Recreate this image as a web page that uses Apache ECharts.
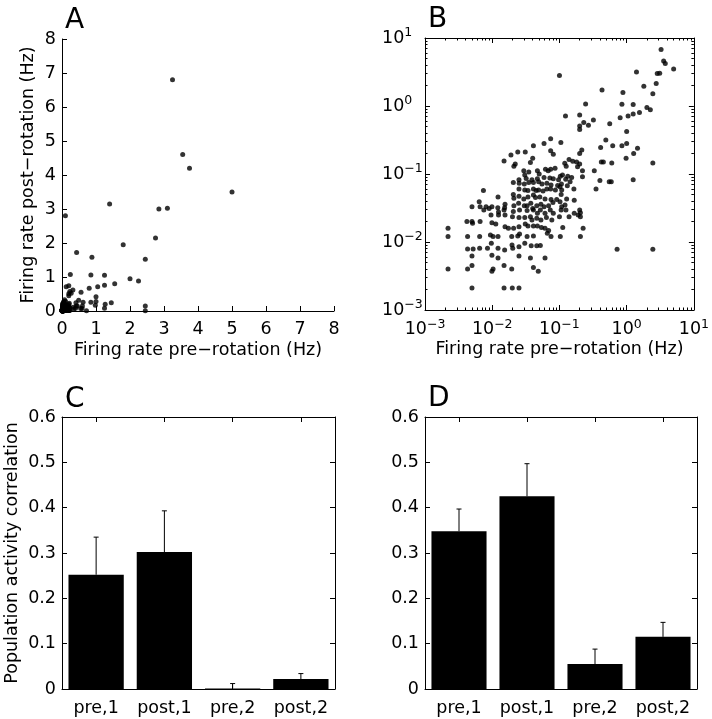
<!DOCTYPE html>
<html>
<head>
<meta charset="utf-8">
<script src="https://cdn.jsdelivr.net/npm/echarts@6/dist/echarts.min.js"></script>
<style>html,body{margin:0;padding:0;background:#fff}#c{width:712px;height:719px}</style>
</head>
<body>
<div id="c"></div>
<script>
// Firing rates (Hz), one entry per cell: pre-rotation and post-rotation
const preRate = [
3.25,3.55,3.75,5.0,1.4,0.1,2.85,3.1,2.75,1.8,2.45,0.43,0.88,1.25,0.85,2.0,2.25,1.55,1.25,1.05,0.8,1.0,1.0,0.62,0.85,1.45,1.27,0.98,0.42,0.45,0.6,2.45,1.25,0.72,2.45,
0.245,0.123,0.2,0.23,0.2,0.2,0.27,0.32,0.56,0.074,0.041,0.059,0.105,0.031,0.024,0.019,0.015,0.022,0.021,0.037,0.04,0.074,0.081,0.139,0.158,0.18,0.2,0.12,0.126,0.186,0.2,0.215,0.41,0.49,0.22,0.33,0.22,0.59,0.55,0.4,0.35,
0.0295,0.035,0.0305,0.047,0.05,0.062,0.068,0.074,0.086,0.111,0.133,0.152,
0.032,0.025,0.039,0.047,0.059,0.072,0.081,0.097,0.103,0.124,0.144,
0.0206,0.0252,0.03,0.035,0.041,0.049,0.055,0.065,0.075,0.094,0.102,0.107,0.131,
0.0074,0.025,0.0305,0.034,0.041,0.045,0.049,0.057,0.065,0.074,0.087,0.108,0.164,
0.0122,0.0206,0.021,0.025,0.0295,0.034,0.041,0.044,0.051,0.061,0.075,0.091,0.106,0.128,0.166,
0.0064,0.0066,0.005,0.0081,0.0099,0.0121,0.0155,0.0153,0.021,0.0247,0.03,0.033,0.0375,0.04,0.046,0.053,0.059,0.069,0.08,0.102,0.108,0.121,0.2,0.205,
0.0075,0.009,0.0124,0.015,0.0206,0.0255,0.033,0.041,0.047,0.052,0.061,0.073,0.081,0.106,0.125,0.166,
0.0042,0.005,0.0066,0.0096,0.0124,0.0155,0.02,0.025,0.0305,0.037,0.039,0.046,0.053,0.064,0.077,0.1,0.139,0.19,0.205,
0.0022,0.0051,0.0099,0.0113,0.0155,0.0174,0.0208,0.025,0.031,0.034,0.041,0.047,0.054,0.061,0.069,0.112,0.225,
0.0022,0.0043,0.0065,0.0094,0.0103,0.0122,0.0195,0.024,0.0255,0.033,0.041,0.066,0.075,0.103,0.205,
0.0043,0.0052,0.0065,0.0085,0.0097,0.0122,0.0153,0.0197,0.0202,0.025,0.0305,0.038,0.046,0.052,
0.005,0.0099,0.0122,0.025,0.037,0.061,
0.0022,0.0043,0.005,0.0099,0.0103,0.015,0.0195,0.041,0.0484,
0.005,0.015,0.0199,0.025
];
const postRate = [
6.8,4.6,4.2,3.5,3.15,2.8,3.0,3.02,2.15,1.95,1.52,1.72,1.58,1.05,1.06,0.95,0.88,0.8,0.76,0.71,0.67,0.42,0.28,0.26,0.26,0.24,0.2,0.17,0.15,0.15,0.145,0.145,0.082,0.0078,0.0078,
1.07,0.71,0.74,0.57,0.51,0.45,0.52,0.62,0.55,0.33,0.26,0.28,0.29,0.21,0.21,0.19,0.155,0.14,0.13,0.147,0.17,0.22,0.195,0.164,0.154,0.15,0.14,0.144,0.13,0.128,0.2,0.225,0.245,0.316,0.112,0.112,0.091,0.077,0.077,0.08,0.06,
0.112,0.107,0.097,0.112,0.1,0.117,0.112,0.117,0.121,0.097,0.093,0.089,
0.086,0.082,0.082,0.085,0.089,0.087,0.085,0.082,0.093,0.084,0.077,
0.075,0.073,0.071,0.075,0.075,0.077,0.071,0.073,0.069,0.068,0.065,0.071,0.067,
0.057,0.06,0.058,0.057,0.06,0.057,0.058,0.056,0.06,0.06,0.058,0.058,0.06,
0.046,0.05,0.044,0.047,0.043,0.046,0.049,0.045,0.046,0.043,0.042,0.042,0.05,0.043,0.041,
0.039,0.033,0.033,0.033,0.033,0.032,0.036,0.032,0.034,0.037,0.034,0.034,0.037,0.031,0.034,0.036,0.033,0.034,0.038,0.039,0.033,0.035,0.0295,0.027,
0.0295,0.031,0.0276,0.0295,0.028,0.0295,0.029,0.0295,0.0264,0.0295,0.0264,0.0295,0.0264,0.0295,0.0295,0.0264,
0.02,0.02,0.02,0.025,0.025,0.025,0.0236,0.023,0.023,0.0236,0.021,0.0223,0.021,0.023,0.021,0.0236,0.0236,0.025,0.0236,
0.0159,0.0188,0.0192,0.0184,0.0168,0.0159,0.0159,0.0168,0.0184,0.0172,0.0172,0.0172,0.0163,0.0159,0.0147,0.0163,0.0159,
0.012,0.012,0.012,0.0127,0.012,0.012,0.012,0.0123,0.0131,0.012,0.0123,0.0134,0.012,0.012,0.012,
0.0079,0.0079,0.0081,0.0081,0.0096,0.0081,0.0076,0.009,0.0081,0.0085,0.0096,0.0088,0.0088,0.0089,
0.0062,0.0064,0.0058,0.0062,0.0058,0.0058,
0.004,0.004,0.0045,0.0037,0.004,0.0045,0.004,0.0042,0.0037,
0.0021,0.0021,0.0021,0.0021
];

// Population activity correlation bars
const barCategories = ['pre,1', 'post,1', 'pre,2', 'post,2'];
const corrC = [0.252, 0.302, 0.001, 0.022];
const corrCTop = [0.335, 0.393, 0.012, 0.034];
const corrD = [0.348, 0.425, 0.055, 0.115];
const corrDTop = [0.397, 0.497, 0.088, 0.147];

const linTicks = [0, 1, 2, 3, 4, 5, 6, 7, 8];
const corrTicks = [0, 0.1, 0.2, 0.3, 0.4, 0.5, 0.6];
const logMajorTicks = [0.001, 0.01, 0.1, 1, 10];
const logMinorTicks = [
  0.002, 0.003, 0.004, 0.005, 0.006, 0.007, 0.008, 0.009,
  0.02, 0.03, 0.04, 0.05, 0.06, 0.07, 0.08, 0.09,
  0.2, 0.3, 0.4, 0.5, 0.6, 0.7, 0.8, 0.9,
  2, 3, 4, 5, 6, 7, 8, 9
];
const panelLetters = ['A', 'B', 'C', 'D'];

const FONT = 'DejaVu Sans, Liberation Sans, Arial, sans-serif';
const FS = 17.5;
const BLACK = '#000';

const scatterData = preRate.map((x, i) => [x, postRate[i]]);
const errC = corrC.map((v, i) => [i, v, corrCTop[i]]);
const errD = corrD.map((v, i) => [i, v, corrDTop[i]]);
// minor tick positions expressed as decade exponents for a helper linear axis
const minorExp = logMinorTicks.map(v => Math.log10(v));
const expMin = Math.log10(logMajorTicks[0]);
const expMax = Math.log10(logMajorTicks[logMajorTicks.length - 1]);

const axisLine = { show: true, onZero: false, lineStyle: { color: BLACK, width: 1 } };
const noLine = { show: false, onZero: false };
const tick = { show: true, inside: true, length: 5, lineStyle: { color: BLACK, width: 1 } };
const minorTick = { show: true, inside: true, length: 2.5, customValues: minorExp, lineStyle: { color: BLACK, width: 1 } };
const lbl = { color: BLACK, fontSize: FS, fontFamily: FONT };
const nameStyle = { color: BLACK, fontSize: FS, fontFamily: FONT };
const noLabel = { show: false };
const noSplit = { show: false };

const logFmt = v => {
  const e = Math.round(Math.log10(v));
  return '{b|10}{s|' + String(e).replace('-', '\u2212') + '}';
};
const logRich = {
  b: { fontSize: FS, fontFamily: FONT, color: BLACK },
  s: { fontSize: 12.5, fontFamily: FONT, color: BLACK, padding: [0, 0, 10, 0] }
};
const logAxis = (pos, extra) => Object.assign({
  gridIndex: 1, type: 'log', logBase: 10, min: logMajorTicks[0], max: logMajorTicks[logMajorTicks.length - 1],
  position: pos, axisLine, axisTick: tick, axisLabel: noLabel, splitLine: noSplit
}, extra || {});
const minorAxis = pos => ({
  gridIndex: 1, type: 'value', min: expMin, max: expMax, position: pos,
  axisLine: noLine, axisTick: minorTick, axisLabel: noLabel, splitLine: noSplit
});

const errRender = (params, api) => {
  const p0 = api.coord([api.value(0), api.value(1)]);
  const p1 = api.coord([api.value(0), api.value(2)]);
  const st = { stroke: BLACK, lineWidth: 1 };
  return {
    type: 'group',
    children: [
      { type: 'line', shape: { x1: p0[0], y1: p0[1], x2: p1[0], y2: p1[1] }, style: st },
      { type: 'line', shape: { x1: p1[0] - 2.5, y1: p1[1], x2: p1[0] + 2.5, y2: p1[1] }, style: st }
    ]
  };
};

const catLabel = Object.assign({ margin: 10, interval: 0 }, lbl);

const option = {
  animation: false,
  backgroundColor: '#fff',
  textStyle: { fontFamily: FONT },
  title: [
    { text: panelLetters[0], left: 60, top: 2 },
    { text: panelLetters[1], left: 423, top: 1 },
    { text: panelLetters[2], left: 60, top: 381 },
    { text: panelLetters[3], left: 423, top: 380 }
  ].map(t => Object.assign(t, { textStyle: { fontSize: 28, fontWeight: 'normal', color: BLACK, fontFamily: FONT } })),
  grid: [
    { left: 62, top: 39, width: 272, height: 272 },
    { left: 425, top: 38, width: 272, height: 272 },
    { left: 62, top: 417, width: 273, height: 272 },
    { left: 425, top: 417, width: 272, height: 272 }
  ],
  xAxis: [
    { gridIndex: 0, type: 'value', min: linTicks[0], max: linTicks[linTicks.length - 1], interval: 1, position: 'bottom',
      axisLine, axisTick: tick, axisLabel: Object.assign({ margin: 9 }, lbl), splitLine: noSplit,
      name: 'Firing rate pre\u2212rotation (Hz)', nameLocation: 'middle', nameGap: 30, nameTextStyle: nameStyle },
    logAxis('bottom', { axisLabel: { formatter: logFmt, rich: logRich, margin: 8 },
      name: 'Firing rate pre\u2212rotation (Hz)', nameLocation: 'middle', nameGap: 30, nameTextStyle: nameStyle }),
    logAxis('top'),
    minorAxis('bottom'),
    minorAxis('top'),
    { gridIndex: 2, type: 'category', data: barCategories, position: 'bottom',
      axisLine, axisTick: Object.assign({ alignWithLabel: true }, tick), axisLabel: catLabel, splitLine: noSplit },
    { gridIndex: 2, type: 'category', data: barCategories, position: 'top',
      axisLine, axisTick: Object.assign({ alignWithLabel: true }, tick), axisLabel: noLabel, splitLine: noSplit },
    { gridIndex: 3, type: 'category', data: barCategories, position: 'bottom',
      axisLine, axisTick: Object.assign({ alignWithLabel: true }, tick), axisLabel: catLabel, splitLine: noSplit },
    { gridIndex: 3, type: 'category', data: barCategories, position: 'top',
      axisLine, axisTick: Object.assign({ alignWithLabel: true }, tick), axisLabel: noLabel, splitLine: noSplit }
  ],
  yAxis: [
    { gridIndex: 0, type: 'value', min: linTicks[0], max: linTicks[linTicks.length - 1], interval: 1, position: 'left',
      axisLine, axisTick: tick, axisLabel: Object.assign({ margin: 6 }, lbl), splitLine: noSplit,
      name: 'Firing rate post\u2212rotation (Hz)', nameLocation: 'middle', nameGap: 25, nameTextStyle: nameStyle },
    logAxis('left', { axisLabel: { formatter: logFmt, rich: logRich, margin: 43, align: 'left' } }),
    logAxis('right'),
    minorAxis('left'),
    minorAxis('right'),
    { gridIndex: 2, type: 'value', min: corrTicks[0], max: corrTicks[corrTicks.length - 1], interval: 0.1, position: 'left',
      axisLine, axisTick: tick, axisLabel: Object.assign({ margin: 6 }, lbl), splitLine: noSplit,
      name: 'Population activity correlation', nameLocation: 'middle', nameGap: 41, nameTextStyle: nameStyle },
    { gridIndex: 2, type: 'value', min: corrTicks[0], max: corrTicks[corrTicks.length - 1], interval: 0.1, position: 'right',
      axisLine, axisTick: tick, axisLabel: noLabel, splitLine: noSplit },
    { gridIndex: 3, type: 'value', min: corrTicks[0], max: corrTicks[corrTicks.length - 1], interval: 0.1, position: 'left',
      axisLine, axisTick: tick, axisLabel: Object.assign({ margin: 6 }, lbl), splitLine: noSplit },
    { gridIndex: 3, type: 'value', min: corrTicks[0], max: corrTicks[corrTicks.length - 1], interval: 0.1, position: 'right',
      axisLine, axisTick: tick, axisLabel: noLabel, splitLine: noSplit }
  ],
  series: [
    { type: 'scatter', xAxisIndex: 0, yAxisIndex: 0, data: scatterData, symbolSize: 5,
      itemStyle: { color: BLACK }, clip: false },
    { type: 'scatter', xAxisIndex: 1, yAxisIndex: 1, data: scatterData, symbolSize: 5,
      itemStyle: { color: BLACK } },
    { type: 'bar', xAxisIndex: 5, yAxisIndex: 5, data: corrC, barWidth: '81%', itemStyle: { color: BLACK } },
    { type: 'custom', xAxisIndex: 5, yAxisIndex: 5, data: errC, renderItem: errRender, encode: { x: 0, y: [1, 2] }, z: 5 },
    { type: 'bar', xAxisIndex: 7, yAxisIndex: 7, data: corrD, barWidth: '81%', itemStyle: { color: BLACK } },
    { type: 'custom', xAxisIndex: 7, yAxisIndex: 7, data: errD, renderItem: errRender, encode: { x: 0, y: [1, 2] }, z: 5 }
  ]
};

const chart = echarts.init(document.getElementById('c'), null, { renderer: 'canvas' });
chart.setOption(option);
</script>
</body>
</html>
